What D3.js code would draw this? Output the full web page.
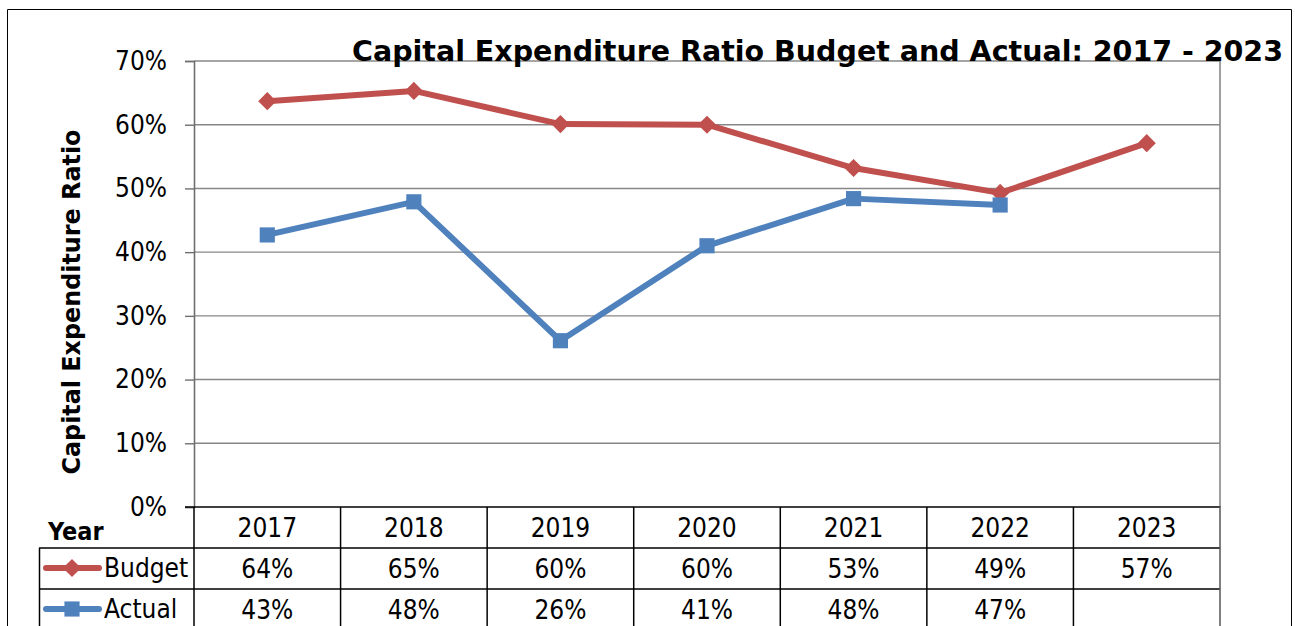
<!DOCTYPE html>
<html>
<head>
<meta charset="utf-8">
<script src="https://cdn.jsdelivr.net/npm/d3@7/dist/d3.min.js"></script>
<style>
  html, body { margin: 0; padding: 0; background: #fff; }
  svg { display: block; font-family: "DejaVu Sans Condensed", "DejaVu Sans", Verdana, sans-serif; }
</style>
</head>
<body>
<svg id="chart" width="1295" height="626"></svg>
<script>
// Capital expenditure ratio, budget vs actual
const years = ["2017", "2018", "2019", "2020", "2021", "2022", "2023"];
const budget = [0.637, 0.653, 0.601, 0.600, 0.532, 0.493, 0.571];
const actual = [0.427, 0.479, 0.261, 0.410, 0.484, 0.474, null];
const yTicks = [0, 0.1, 0.2, 0.3, 0.4, 0.5, 0.6, 0.7];
const seriesNames = ["Budget", "Actual"];

const RED = "#C0504D", BLUE = "#4F81BD";
const svg = d3.select("#chart");
const fmt = d3.format(".0%");

const plot = { left: 194, right: 1220, top: 61, bottom: 507 };
const x = d3.scaleBand().domain(years).range([plot.left, plot.right]);
const y = d3.scaleLinear().domain([0, 0.7]).range([plot.bottom, plot.top]);

// outer frame
svg.append("path")
  .attr("d", "M7.5,626 V9.5 H1291.5 V626")
  .attr("fill", "none").attr("stroke", "#000").attr("stroke-width", 1);

// gridlines
svg.append("g").selectAll("line").data(yTicks.filter(d => d > 0)).join("line")
  .attr("x1", plot.left).attr("x2", plot.right)
  .attr("y1", d => y(d)).attr("y2", d => y(d))
  .attr("stroke", "#878787").attr("stroke-width", 1.4);

// plot right border
svg.append("line").attr("x1", plot.right).attr("x2", plot.right)
  .attr("y1", plot.top).attr("y2", plot.bottom)
  .attr("stroke", "#878787").attr("stroke-width", 1.6);

// y axis
const yAxis = svg.append("g").attr("transform", `translate(${plot.left},0)`)
  .call(d3.axisLeft(y).tickValues(yTicks).tickFormat(fmt).tickSize(9).tickPadding(18))
  .attr("font-family", null).attr("font-size", null);
yAxis.select(".domain").attr("stroke", "#6e6e6e").attr("stroke-width", 1.6);
yAxis.selectAll(".tick line").attr("stroke", "#6e6e6e").attr("stroke-width", 1.4);
yAxis.selectAll(".tick text").attr("font-size", 26).attr("fill", "#000");

// y axis title
svg.append("text")
  .attr("transform", "translate(80,302) rotate(-90)")
  .attr("text-anchor", "middle")
  .attr("font-size", 24).attr("font-weight", "bold")
  .attr("textLength", 345).attr("lengthAdjust", "spacingAndGlyphs")
  .text("Capital Expenditure Ratio");

// chart title
svg.append("text")
  .attr("x", 352).attr("y", 61)
  .attr("font-size", 28).attr("font-weight", "bold")
  .attr("textLength", 931).attr("lengthAdjust", "spacingAndGlyphs")
  .text("Capital Expenditure Ratio Budget and Actual: 2017 - 2023");

// data table
const rowTop = [507, 548, 589, 630];
const table = svg.append("g").attr("stroke", "#000").attr("stroke-width", 1.5);
table.append("line").attr("x1", plot.left - 9).attr("x2", plot.right).attr("y1", rowTop[0]).attr("y2", rowTop[0]);
[rowTop[1], rowTop[2]].forEach(v => {
  table.append("line").attr("x1", 39).attr("x2", plot.right).attr("y1", v).attr("y2", v);
});
const colEdges = years.map(d => x(d)).concat([plot.right]);
colEdges.forEach((cx, i) => {
  table.append("line").attr("x1", cx).attr("x2", cx)
    .attr("y1", i === colEdges.length - 1 ? plot.bottom - 1 : rowTop[0]).attr("y2", 626)
    .attr("stroke", i === colEdges.length - 1 ? "#555" : "#000");
});
table.append("line").attr("x1", 39.5).attr("x2", 39.5).attr("y1", rowTop[1]).attr("y2", 626);

svg.append("text").attr("x", 48).attr("y", 540)
  .attr("font-size", 25).attr("font-weight", "bold").text("Year");

const cellFont = 26;
svg.append("g").selectAll("text").data(years).join("text")
  .attr("x", d => x(d) + x.bandwidth() / 2).attr("y", 537)
  .attr("text-anchor", "middle").attr("font-size", cellFont).text(d => d);
svg.append("g").selectAll("text").data(budget).join("text")
  .attr("x", (d, i) => x(years[i]) + x.bandwidth() / 2).attr("y", 578)
  .attr("text-anchor", "middle").attr("font-size", cellFont).text(d => fmt(d));
svg.append("g").selectAll("text").data(actual.filter(d => d != null)).join("text")
  .attr("x", (d, i) => x(years[i]) + x.bandwidth() / 2).attr("y", 619)
  .attr("text-anchor", "middle").attr("font-size", cellFont).text(d => fmt(d));

// markers
const diamond = d3.symbol().type(d3.symbolDiamond2).size(210);
const square = d3.symbol().type(d3.symbolSquare).size(230);

// legend keys inside the table
const keys = [
  { name: seriesNames[0], color: RED, sym: diamond, cy: 568 },
  { name: seriesNames[1], color: BLUE, sym: square, cy: 609 }
];
keys.forEach(k => {
  svg.append("line").attr("x1", 46).attr("x2", 99).attr("y1", k.cy).attr("y2", k.cy)
    .attr("stroke", k.color).attr("stroke-width", 6).attr("stroke-linecap", "round");
  svg.append("path").attr("d", k.sym()).attr("transform", `translate(72,${k.cy})`).attr("fill", k.color);
  svg.append("text").attr("x", 104).attr("y", k.cy + 9).attr("font-size", cellFont).text(k.name);
});

// series lines
const cx = i => x(years[i]) + x.bandwidth() / 2;
const line = d3.line().defined(d => d != null).x((d, i) => cx(i)).y(d => y(d));
[{ v: budget, c: RED, sym: diamond }, { v: actual, c: BLUE, sym: square }].forEach(s => {
  svg.append("path").datum(s.v).attr("d", line)
    .attr("fill", "none").attr("stroke", s.c).attr("stroke-width", 6)
    .attr("stroke-linejoin", "round");
  svg.append("g").selectAll("path").data(s.v.map((d, i) => ({ d, i })).filter(p => p.d != null)).join("path")
    .attr("d", s.sym()).attr("transform", p => `translate(${cx(p.i)},${y(p.d)})`)
    .attr("fill", s.c);
});
</script>
</body>
</html>
